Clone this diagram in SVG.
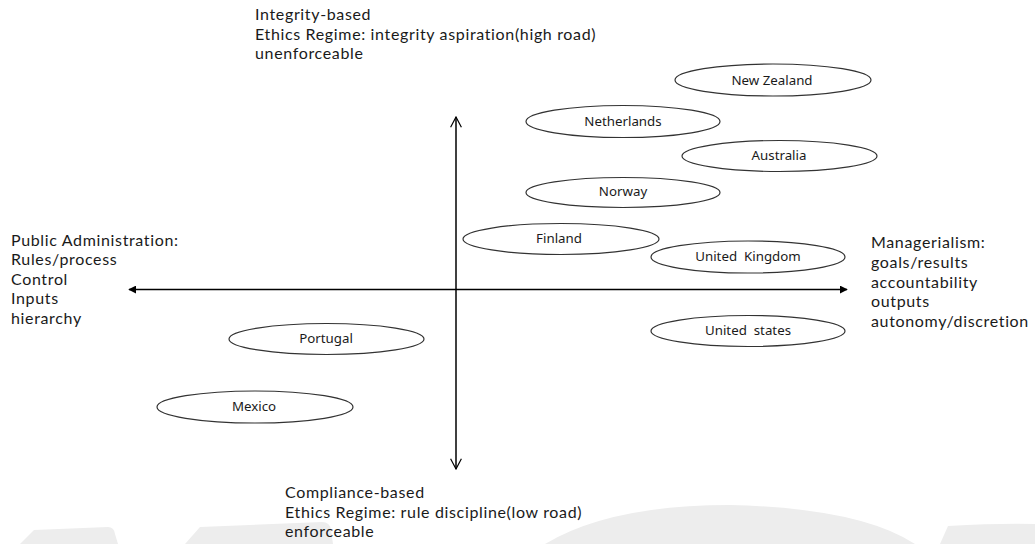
<svg xmlns="http://www.w3.org/2000/svg" width="1035" height="544" viewBox="0 0 1035 544">
<style>
text{font-family:"Noto Sans","Open Sans","Liberation Sans",sans-serif;fill:#1a1a1a}
.lbl{font-family:Lato,"Noto Sans",sans-serif;font-size:16px;letter-spacing:0.65px}
.nd{font-size:13.3px;text-anchor:middle;white-space:pre}
ellipse{fill:#fff;stroke:#333;stroke-width:1.2}
.ax{stroke:#000;stroke-width:1.5;fill:none}
.wm{fill:#ededed}
</style>
<defs>
<marker id="tri" viewBox="0 0 10 10" refX="9" refY="5" markerWidth="8" markerHeight="8" markerUnits="userSpaceOnUse" orient="auto-start-reverse">
<path d="M0,0 L10,5 L0,10 z" fill="#000"/>
</marker>
<marker id="vee" viewBox="0 0 10 10" refX="9.5" refY="5" markerWidth="12" markerHeight="12" markerUnits="userSpaceOnUse" orient="auto-start-reverse">
<path d="M1,0.5 L9.5,5 L1,9.5" fill="none" stroke="#000" stroke-width="1"/>
</marker>
</defs>
<rect width="1035" height="544" fill="#fff"/>
<g id="watermark">
<path class="wm" d="M34,530 L108,527 Q114,527 115,534 L118,544 L20,544 Z"/>
<path class="wm" d="M200,527 L322,522 Q330,522 331,530 L333,544 L185,544 Z"/>
<path class="wm" d="M545,544 Q610,505 730,505 Q860,508 915,544 Z"/>
<path class="wm" d="M948,526 Q1000,523 1035,524 L1035,544 L940,544 Z"/>
</g>
<g id="connectors">
<line class="ax" x1="129" y1="289.5" x2="847" y2="289.5" marker-start="url(#tri)" marker-end="url(#tri)"/>
<line class="ax" x1="456" y1="117" x2="456" y2="469" marker-start="url(#vee)" marker-end="url(#vee)"/>
</g>
<g id="top-label"><text class="lbl" x="255" y="20">Integrity-based</text><text class="lbl" x="255" y="40">Ethics Regime: integrity aspiration(high road)</text><text class="lbl" x="255" y="59">unenforceable</text></g>
<g id="left-label"><text class="lbl" x="11" y="246">Public Administration:</text><text class="lbl" x="11" y="265">Rules/process</text><text class="lbl" x="11" y="285">Control</text><text class="lbl" x="11" y="304">Inputs</text><text class="lbl" x="11" y="324">hierarchy</text></g>
<g id="right-label"><text class="lbl" x="871" y="248">Managerialism:</text><text class="lbl" x="871" y="268">goals/results</text><text class="lbl" x="871" y="288">accountability</text><text class="lbl" x="871" y="307">outputs</text><text class="lbl" x="871" y="327">autonomy/discretion</text></g>
<g id="bottom-label"><text class="lbl" x="285" y="498">Compliance-based</text><text class="lbl" x="285" y="518">Ethics Regime: rule discipline(low road)</text><text class="lbl" x="285" y="537">enforceable</text></g>
<g id="new-zealand"><ellipse cx="773" cy="80" rx="98" ry="16"/><text class="nd" x="772" y="85">New Zealand</text></g>
<g id="netherlands"><ellipse cx="623" cy="121.5" rx="97" ry="16"/><text class="nd" x="623" y="126">Netherlands</text></g>
<g id="australia"><ellipse cx="779.5" cy="156" rx="97.5" ry="15.5"/><text class="nd" x="779" y="160">Australia</text></g>
<g id="norway"><ellipse cx="623" cy="192.5" rx="97" ry="15"/><text class="nd" x="623" y="196">Norway</text></g>
<g id="finland"><ellipse cx="561" cy="239" rx="98" ry="15.5"/><text class="nd" x="559" y="243">Finland</text></g>
<g id="united-kingdom"><ellipse cx="748" cy="257" rx="97" ry="16"/><text class="nd" x="748" y="261">United  Kingdom</text></g>
<g id="united-states"><ellipse cx="748" cy="331" rx="97" ry="15.5"/><text class="nd" x="748" y="335">United  states</text></g>
<g id="portugal"><ellipse cx="326.5" cy="339" rx="97.5" ry="15.5"/><text class="nd" x="326" y="343">Portugal</text></g>
<g id="mexico"><ellipse cx="255" cy="407" rx="98" ry="16"/><text class="nd" x="254" y="411">Mexico</text></g>
</svg>
